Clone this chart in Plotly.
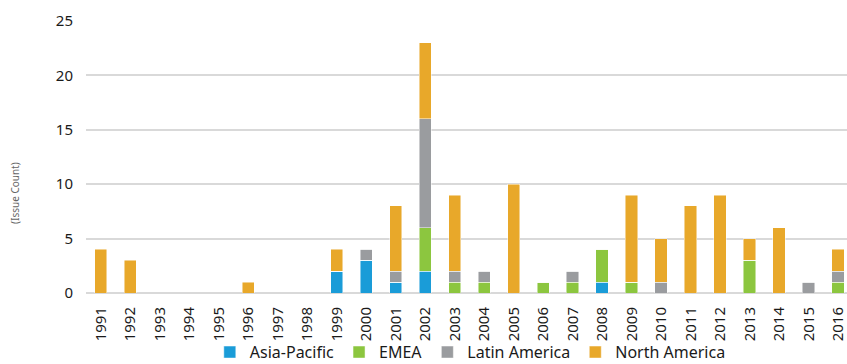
import plotly.graph_objects as go

years = [str(y) for y in range(1991, 2017)]
asia_pacific = [0,0,0,0,0,0,0,0,2,3,1,2,0,0,0,0,0,1,0,0,0,0,0,0,0,0]
emea         = [0,0,0,0,0,0,0,0,0,0,0,4,1,1,0,1,1,3,1,0,0,0,3,0,0,1]
latin_america= [0,0,0,0,0,0,0,0,0,1,1,10,1,1,0,0,1,0,0,1,0,0,0,0,1,1]
north_america= [4,3,0,0,0,1,0,0,2,0,6,7,7,0,10,0,0,0,8,4,8,9,2,6,0,2]

series = [
    ("Asia-Pacific", asia_pacific, "#1a9cd8"),
    ("EMEA", emea, "#8cc63f"),
    ("Latin America", latin_america, "#9a9c9f"),
    ("North America", north_america, "#e8a82a"),
]

fig = go.Figure()
for name, vals, col in series:
    fig.add_trace(go.Bar(x=years, y=vals, name=name,
                         marker=dict(color=col, line=dict(color="rgba(255,255,255,0.6)", width=0.8))))

font = "Noto Sans, Open Sans, sans-serif"
fig.update_layout(
    barmode="stack",
    bargap=0.58,
    width=847, height=364,
    margin=dict(l=86, r=0, t=21, b=71, autoexpand=False),
    plot_bgcolor="white", paper_bgcolor="white",
    font=dict(family=font, size=15, color="#1a1a1a"),
    showlegend=True,
    legend=dict(orientation="h", traceorder="normal", x=0.505, xanchor="center",
                y=-0.155, yanchor="top", bgcolor="rgba(0,0,0,0)",
                font=dict(size=16, color="#1a1a1a"), itemwidth=30, tracegroupgap=0,
                itemclick=False),
    xaxis=dict(type="category", tickangle=-90, range=[-0.5, 25.3], showgrid=False,
               showline=False, ticks="outside", ticklen=7, tickcolor="rgba(0,0,0,0)",
               tickfont=dict(size=15), automargin=False),
    yaxis=dict(range=[0, 25], dtick=5, showgrid=True, gridcolor="#d9d9d9", gridwidth=1.5,
               zeroline=True, zerolinecolor="#d9d9d9", zerolinewidth=1.5,
               ticks="outside", ticklen=9, tickcolor="rgba(0,0,0,0)",
               tickfont=dict(size=15), automargin=False),
    annotations=[dict(text="(Issue Count)", x=(15 - 86) / 761, xref="paper", xanchor="center",
                      y=(293 - 193) / 272, yref="paper", yanchor="middle",
                      showarrow=False, textangle=-90, font=dict(size=10, color="#666666"))],
)

fig.write_html("out.html")
